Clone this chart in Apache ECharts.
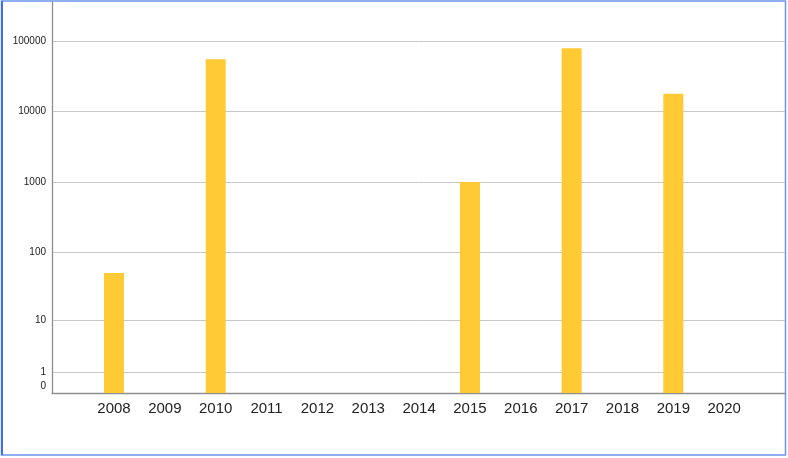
<!DOCTYPE html>
<html>
<head>
<meta charset="utf-8">
<script src="https://cdn.jsdelivr.net/npm/echarts@6/dist/echarts.min.js"></script>
<style>
    html, body { margin: 0; padding: 0; background: #fff; }
    #chart { width: 788px; height: 458px; }
</style>
</head>
<body>
<div id="chart"></div>
<script>
// years on the x axis
const years = ["2008", "2009", "2010", "2011", "2012", "2013", "2014",
    "2015", "2016", "2017", "2018", "2019", "2020"];
// bar values (log-like axis)
const counts = [50, 0, 55500, 0, 0, 0, 0, 1000, 0, 80000, 0, 18000, 0];
// y tick labels
const tickLabels = [0, 1, 10, 100, 1000, 10000, 100000];

// axis is log10(1 + x)
const toAxis = (v) => Math.log10(1 + v);
const fromAxis = (v) => Math.round(Math.pow(10, v) - 1);

const yMax = 5.559;
const tickPos = tickLabels.map(toAxis);

const chart = echarts.init(document.getElementById("chart"));
chart.setOption({
    animation: false,
    grid: [
        // frame: axis lines and grid lines
        { left: 52, right: 3, top: 2, bottom: 65 },
        // bars
        { left: 88.6, width: 661, top: 2, bottom: 65 },
    ],
    xAxis: [
        {
            gridIndex: 0,
            type: "value",
            min: 0,
            max: 1,
            axisLine: { show: true, lineStyle: { color: "#8f8f8f", width: 1.3 } },
            axisTick: { show: false },
            axisLabel: { show: false },
            splitLine: { show: false },
        },
        {
            gridIndex: 1,
            type: "category",
            data: years,
            axisLine: { show: false },
            axisTick: { show: false },
            axisLabel: {
                color: "#222",
                fontSize: 15,
                fontFamily: "Liberation Sans, Arial, sans-serif",
                margin: 8,
                interval: 0,
            },
        },
    ],
    yAxis: [
        {
            gridIndex: 0,
            type: "value",
            min: 0,
            max: yMax,
            axisLine: { show: true, lineStyle: { color: "#8f8f8f", width: 1.3 } },
            axisTick: { show: false, customValues: tickPos },
            axisLabel: {
                customValues: tickPos,
                color: "#222",
                fontSize: 10,
                fontFamily: "Liberation Sans, Arial, sans-serif",
                margin: 6,
                formatter: (v) => {
                    const n = fromAxis(v);
                    return n === 0 ? "{z|0}" : String(n);
                },
                rich: {
                    z: {
                        fontSize: 10,
                        color: "#222",
                        fontFamily: "Liberation Sans, Arial, sans-serif",
                        padding: [0, 0, 14, 0],
                    },
                },
            },
            splitLine: { show: true, lineStyle: { color: "#c8c8c8", width: 1 } },
        },
        {
            gridIndex: 1,
            type: "value",
            min: 0,
            max: yMax,
            show: false,
        },
    ],
    graphic: [
        {
            type: "rect",
            shape: { x: 1.5, y: 1, width: 784, height: 454 },
            style: { fill: null, stroke: "#6b95f2", lineWidth: 1.5 },
            silent: true,
        },
        {
            type: "line",
            shape: { x1: 2, y1: 1, x2: 2, y2: 455 },
            style: { stroke: "#3f6fee", lineWidth: 2 },
            silent: true,
        },
    ],
    series: [
        {
            type: "bar",
            xAxisIndex: 1,
            yAxisIndex: 1,
            barWidth: 20,
            data: counts.map(toAxis),
            itemStyle: { color: "#ffca33" },
        },
    ],
});
</script>
</body>
</html>
